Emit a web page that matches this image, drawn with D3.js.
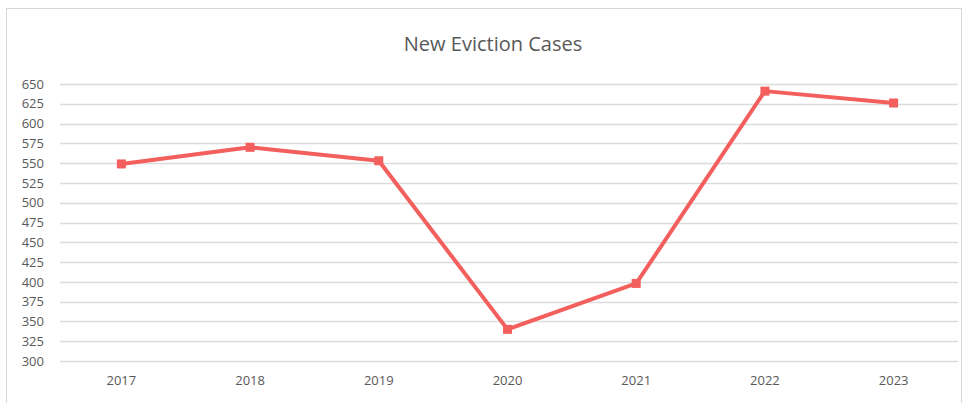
<!DOCTYPE html>
<html>
<head>
<meta charset="utf-8">
<script src="https://cdn.jsdelivr.net/npm/d3@7"></script>
<style>
  body { margin: 0; background: #fff; }
  text { font-family: "Open Sans", "Liberation Sans", sans-serif; fill: #595959; }
</style>
</head>
<body>
<div id="chart"></div>
<script>
const width = 965;
const height = 403;

const years = ['2017', '2018', '2019', '2020', '2021', '2022', '2023'];
const cases = [549, 570, 553, 340, 398, 641, 626];
const yTicks = d3.range(300, 651, 25);

const margin = {top: 84, right: 7, bottom: 42, left: 57};

const svg = d3.select('#chart').append('svg')
  .attr('width', width)
  .attr('height', height);

// chart border
svg.append('rect')
  .attr('x', 6.5).attr('y', 8.5)
  .attr('width', width - 10).attr('height', height - 8)
  .attr('fill', 'none')
  .attr('stroke', '#d9d9d9');

svg.append('text')
  .attr('x', 493).attr('y', 51)
  .attr('text-anchor', 'middle')
  .style('font-size', '20px')
  .text('New Eviction Cases');

const x = d3.scaleBand()
  .domain(years)
  .range([margin.left, width - margin.right]);

const y = d3.scaleLinear()
  .domain([300, 650])
  .range([height - margin.bottom, margin.top]);

// gridlines
svg.append('g')
  .selectAll('line')
  .data(yTicks)
  .join('line')
  .attr('x1', margin.left + 3).attr('x2', width - margin.right)
  .attr('y1', d => Math.round(y(d)) + 0.5)
  .attr('y2', d => Math.round(y(d)) + 0.5)
  .attr('stroke', '#dcdcdc')
  .attr('stroke-width', 1.5);

const yAxis = svg.append('g')
  .attr('transform', 'translate(' + (margin.left - 13) + ',0)')
  .call(d3.axisLeft(y).tickValues(yTicks).tickSize(0).tickPadding(0));
yAxis.select('.domain').remove();
yAxis.selectAll('text').style('font-size', '13px').style('font-family', '"Open Sans", sans-serif');

const xAxis = svg.append('g')
  .attr('transform', 'translate(0,' + (height - margin.bottom) + ')')
  .call(d3.axisBottom(x).tickSize(0).tickPadding(15));
xAxis.select('.domain').remove();
xAxis.selectAll('text').style('font-size', '13px').style('font-family', '"Open Sans", sans-serif');

const cx = d => x(d) + x.bandwidth() / 2;

const line = d3.line()
  .x((d, i) => cx(years[i]))
  .y(d => y(d));

svg.append('path')
  .datum(cases)
  .attr('fill', 'none')
  .attr('stroke', '#f25f5c')
  .attr('stroke-width', 4)
  .attr('stroke-linejoin', 'round')
  .attr('d', line);

svg.append('g')
  .selectAll('rect')
  .data(cases)
  .join('rect')
  .attr('x', (d, i) => cx(years[i]) - 4.5)
  .attr('y', d => y(d) - 4.5)
  .attr('width', 9).attr('height', 9)
  .attr('fill', '#f25f5c');
</script>
</body>
</html>
